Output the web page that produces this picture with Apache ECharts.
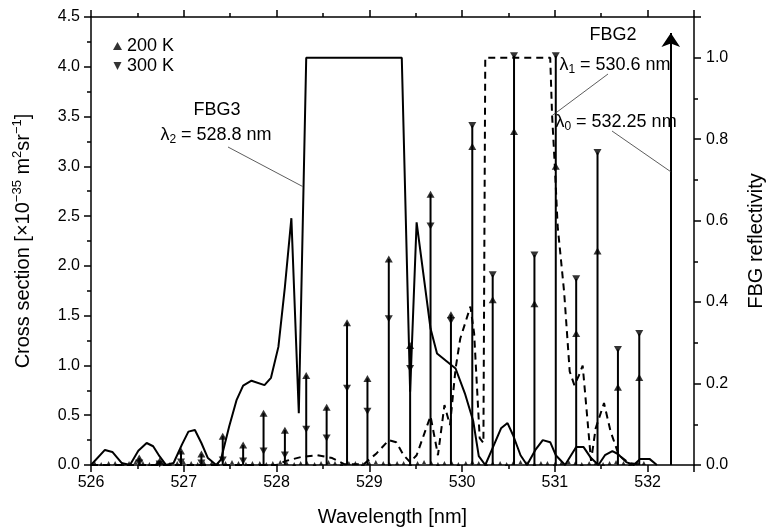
<!DOCTYPE html>
<html lang="en">
<head>
<meta charset="UTF-8">
<title>Raman lines and FBG reflectivity</title>
<script src="https://cdn.jsdelivr.net/npm/echarts@6/dist/echarts.min.js"></script>
<style>
  html, body { margin: 0; padding: 0; background: #fff; }
  #chart { width: 774px; height: 532px; }
</style>
</head>
<body>
<div id="chart"></div>
<script>
  // rotational Raman lines, wavelength [nm]
  var lineWl = [526.52, 526.74, 526.97, 527.19, 527.42, 527.64, 527.86, 528.09, 528.32, 528.54, 528.76, 528.98,
                529.21, 529.44, 529.66, 529.88, 530.11, 530.33, 530.56, 530.78, 531.01, 531.23, 531.46, 531.68, 531.91];
  // cross section [x1e-35 m2 sr-1]
  var cs200 = [0.07, 0.04, 0.14, 0.11, 0.29, 0.20, 0.52, 0.35, 0.90, 0.58, 1.43, 0.87,
               2.07, 1.20, 2.72, 1.51, 3.20, 1.66, 3.35, 1.62, 3.00, 1.32, 2.15, 0.78, 0.88];
  var cs300 = [0.02, 0.01, 0.03, 0.02, 0.05, 0.04, 0.14, 0.10, 0.36, 0.27, 0.77, 0.54,
               1.47, 0.97, 2.40, 1.45, 3.41, 1.91, 4.11, 2.11, 4.11, 1.87, 3.14, 1.16, 1.32];

  // weak lines sitting on the baseline
  var weakWl = [526.04, 526.11, 526.19, 526.26, 526.34, 526.41, 526.48, 526.56, 526.63, 526.71, 526.78, 526.85,
                526.93, 527.00, 527.08, 527.15, 527.22, 527.30, 527.37, 527.45, 527.52, 527.59, 527.67, 527.74,
                527.82, 527.89, 527.96, 528.04, 528.11, 528.19, 528.26, 528.33, 528.41, 528.48, 528.56, 528.63,
                528.70, 528.78, 528.85, 528.93, 529.00, 529.07, 529.15, 529.22, 529.30, 529.37, 529.44, 529.52,
                529.59, 529.67, 529.74, 529.81, 529.89, 529.96, 530.04, 530.11, 530.18, 530.26, 530.33, 530.41,
                530.48, 530.55, 530.63, 530.70, 530.78, 530.85, 530.92, 531.00, 531.07, 531.15, 531.22, 531.29,
                531.37, 531.44, 531.52, 531.59, 531.66, 531.74, 531.81, 531.89, 531.96];
  var weakCs = [0.02, 0.01, 0.02, 0.02, 0.01, 0.02, 0.03, 0.02, 0.01, 0.02, 0.02, 0.01,
                0.02, 0.03, 0.02, 0.01, 0.02, 0.02, 0.01, 0.02, 0.03, 0.02, 0.01, 0.02,
                0.02, 0.01, 0.02, 0.03, 0.02, 0.01, 0.02, 0.02, 0.01, 0.02, 0.03, 0.02,
                0.01, 0.02, 0.02, 0.01, 0.02, 0.03, 0.02, 0.01, 0.02, 0.02, 0.01, 0.02,
                0.03, 0.02, 0.01, 0.02, 0.02, 0.01, 0.02, 0.03, 0.02, 0.01, 0.02, 0.02,
                0.01, 0.02, 0.03, 0.02, 0.01, 0.02, 0.02, 0.01, 0.02, 0.03, 0.02, 0.01,
                0.02, 0.02, 0.01, 0.02, 0.03, 0.02, 0.01, 0.02, 0.02];

  // FBG3 reflectivity (solid), [wavelength, R]
  var fbg3 = [[526.00, 0.000], [526.15, 0.037], [526.23, 0.032], [526.33, 0.005], [526.42, 0.000], [526.51, 0.035],
              [526.60, 0.054], [526.67, 0.046], [526.74, 0.021], [526.81, 0.000], [526.89, 0.005], [526.98, 0.050],
              [527.05, 0.082], [527.12, 0.086], [527.19, 0.054], [527.26, 0.017], [527.35, 0.000], [527.40, 0.013],
              [527.49, 0.095], [527.57, 0.160], [527.64, 0.195], [527.73, 0.207], [527.87, 0.196], [527.94, 0.214],
              [528.02, 0.290], [528.09, 0.437], [528.16, 0.606], [528.24, 0.127], [528.32, 1.000], [529.35, 1.000],
              [529.44, 0.180], [529.51, 0.596], [529.66, 0.335], [529.73, 0.274], [529.82, 0.257], [529.93, 0.237],
              [530.03, 0.176], [530.12, 0.108], [530.18, 0.022], [530.25, 0.000], [530.33, 0.042], [530.42, 0.090],
              [530.49, 0.103], [530.55, 0.073], [530.63, 0.024], [530.70, 0.000], [530.79, 0.037], [530.87, 0.061],
              [530.95, 0.056], [531.01, 0.024], [531.11, 0.000], [531.17, 0.022], [531.23, 0.044], [531.31, 0.044],
              [531.39, 0.017], [531.47, 0.000], [531.54, 0.024], [531.62, 0.034], [531.68, 0.027], [531.77, 0.007],
              [531.85, 0.000], [531.92, 0.015], [532.02, 0.015], [532.10, 0.000]];
  // FBG2 reflectivity (dashed)
  var fbg2 = [[526.00, 0.000], [528.00, 0.000], [528.10, 0.010], [528.27, 0.020], [528.44, 0.024], [528.60, 0.017],
              [528.73, 0.002], [528.94, 0.002], [529.08, 0.029], [529.21, 0.061], [529.29, 0.056], [529.37, 0.024],
              [529.44, 0.007], [529.51, 0.024], [529.66, 0.120], [529.74, 0.024], [529.81, 0.147], [529.87, 0.098],
              [529.93, 0.237], [529.98, 0.310], [530.09, 0.389], [530.13, 0.323], [530.19, 0.066], [530.23, 0.054],
              [530.25, 1.000], [530.95, 1.000], [530.97, 0.860], [531.00, 0.733], [531.03, 0.587], [531.10, 0.425],
              [531.16, 0.230], [531.21, 0.196], [531.26, 0.220], [531.30, 0.244], [531.35, 0.115], [531.39, 0.010],
              [531.44, 0.090], [531.53, 0.152], [531.60, 0.083], [531.69, 0.024], [531.80, 0.005], [531.94, 0.000]];

  // laser line
  var lambda0 = 532.25;
  var arrowTop = 4.34;

  // points the leader lines touch, [wavelength, R]
  var tipFbg3 = [528.28, 0.684];
  var tipL1 = [530.96, 0.856];
  var tipL0 = [532.25, 0.72];

  var black = '#000';
  var font = 'Liberation Sans, Arial, sans-serif';
  var downTri = 'path://M0,0L10,0L5,10Z';

  var chart = echarts.init(document.getElementById('chart'));

  var stems = lineWl.map(function (w, i) { return [w, Math.max(cs200[i], cs300[i])]; });
  var pts200 = lineWl.map(function (w, i) { return [w, cs200[i]]; });
  var pts300 = lineWl.map(function (w, i) { return [w, cs300[i]]; });
  var weak = weakWl.map(function (w, i) { return [w, weakCs[i]]; });

  function xAxisCfg(pos) {
    return {
      type: 'value', position: pos, min: 526, max: 532.5, interval: 1,
      axisLine: { onZero: false, lineStyle: { color: black, width: 1.5 } },
      axisTick: { length: 7, lineStyle: { color: black, width: 1.5 } },
      minorTick: { show: true, splitNumber: 2, length: 4, lineStyle: { color: black, width: 1.5 } },
      splitLine: { show: false },
      axisLabel: { show: pos === 'bottom', showMaxLabel: false, color: black, fontSize: 16, fontFamily: font, margin: 10 }
    };
  }

  var bottomX = xAxisCfg('bottom');
  bottomX.name = 'Wavelength [nm]';
  bottomX.nameLocation = 'middle';
  bottomX.nameGap = 42;
  bottomX.nameTextStyle = { color: black, fontSize: 20, fontFamily: font };

  var option = {
    animation: false,
    backgroundColor: '#fff',
    grid: { left: 91, right: 77, top: 17, bottom: 65, containLabel: false },
    legend: {
      orient: 'vertical', left: 108, top: 32, itemWidth: 9, itemHeight: 8, itemGap: 2,
      textStyle: { color: black, fontSize: 18, fontFamily: font },
      data: [{ name: '200 K', icon: 'triangle' }, { name: '300 K', icon: downTri }]
    },
    xAxis: [bottomX, xAxisCfg('top')],
    yAxis: [
      {
        type: 'value', position: 'left', min: 0, max: 4.5, interval: 0.5,
        name: 'Cross section [×10{sup|−35} m{sup|2}sr{sup|−1}]',
        nameLocation: 'middle', nameGap: 56,
        nameTextStyle: {
          color: black, fontSize: 20, fontFamily: font, lineHeight: 24,
          rich: { sup: { fontSize: 13, lineHeight: 13, verticalAlign: 'top', fontFamily: font, color: black } }
        },
        axisLine: { show: true, lineStyle: { color: black, width: 1.5 } },
        axisTick: { show: true, length: 7, lineStyle: { color: black, width: 1.5 } },
        minorTick: { show: true, splitNumber: 2, length: 4, lineStyle: { color: black, width: 1.5 } },
        splitLine: { show: false },
        axisLabel: { color: black, fontSize: 16, fontFamily: font, margin: 11, formatter: function (v) { return v.toFixed(1); } }
      },
      {
        type: 'value', position: 'right', min: 0, max: 1.1, interval: 0.2,
        name: 'FBG reflectivity', nameLocation: 'middle', nameGap: 52, nameRotate: 90,
        nameTextStyle: { color: black, fontSize: 20, fontFamily: font },
        axisLine: { show: true, lineStyle: { color: black, width: 1.5 } },
        axisTick: { show: true, length: 7, lineStyle: { color: black, width: 1.5 } },
        minorTick: { show: true, splitNumber: 2, length: 4, lineStyle: { color: black, width: 1.5 } },
        splitLine: { show: false },
        axisLabel: { color: black, fontSize: 16, fontFamily: font, margin: 12, showMaxLabel: false,
                     formatter: function (v) { return v.toFixed(1); } }
      }
    ],
    series: [
      {
        name: 'FBG3', type: 'line', xAxisIndex: 0, yAxisIndex: 1, data: fbg3,
        showSymbol: false, lineStyle: { color: black, width: 2 }, z: 2
      },
      {
        name: 'FBG2', type: 'line', xAxisIndex: 0, yAxisIndex: 1, data: fbg2,
        showSymbol: false, lineStyle: { color: black, width: 2, type: [7, 5] }, z: 2
      },
      {
        name: 'stems', type: 'custom', xAxisIndex: 0, yAxisIndex: 0, data: stems,
        encode: { x: 0, y: 1 }, z: 3,
        renderItem: function (params, api) {
          var top = api.coord([api.value(0), api.value(1)]);
          var base = api.coord([api.value(0), 0]);
          return {
            type: 'line',
            shape: { x1: base[0], y1: base[1], x2: top[0], y2: top[1] },
            style: { stroke: black, lineWidth: 2 }
          };
        }
      },
      {
        name: 'weak', type: 'scatter', xAxisIndex: 0, yAxisIndex: 0, data: weak,
        symbol: 'triangle', symbolSize: [4, 4], itemStyle: { color: black }, z: 3
      },
      {
        name: '200 K', type: 'scatter', xAxisIndex: 0, yAxisIndex: 0, data: pts200,
        symbol: 'triangle', symbolSize: [8, 7], itemStyle: { color: black }, z: 4
      },
      {
        name: '300 K', type: 'scatter', xAxisIndex: 0, yAxisIndex: 0, data: pts300,
        symbol: downTri, symbolSize: [8, 7], itemStyle: { color: black }, z: 4
      },
      {
        name: 'laser', type: 'lines', coordinateSystem: 'cartesian2d', xAxisIndex: 0, yAxisIndex: 0,
        symbol: ['none', 'arrow'], symbolSize: [7, 14],
        lineStyle: { color: black, width: 2, opacity: 1 },
        data: [{ coords: [[lambda0, 0], [lambda0, arrowTop]] }], z: 4
      }
    ]
  };

  chart.setOption(option);

  // annotations: text placed in the free space, leader lines end on the curves
  var rich = {
    t: { fontSize: 18, lineHeight: 22, fontFamily: font, fill: black },
    s: { fontSize: 12, lineHeight: 12, verticalAlign: 'bottom', fontFamily: font, fill: black }
  };
  var px3 = chart.convertToPixel({ xAxisIndex: 0, yAxisIndex: 1 }, tipFbg3);
  var px1 = chart.convertToPixel({ xAxisIndex: 0, yAxisIndex: 1 }, tipL1);
  var px0 = chart.convertToPixel({ xAxisIndex: 0, yAxisIndex: 1 }, tipL0);

  function label(x, y, text) {
    return { type: 'text', x: x, y: y, z: 10,
             style: { text: text, rich: rich, align: 'center', verticalAlign: 'middle', font: '18px ' + font, fill: black } };
  }
  function leader(x, y, p) {
    return { type: 'line', z: 10, shape: { x1: x, y1: y, x2: p[0], y2: p[1] }, style: { stroke: '#333', lineWidth: 0.8 } };
  }

  chart.setOption({
    graphic: [
      label(217, 110, 'FBG3'),
      label(216, 135, '{t|λ}{s|2}{t| = 528.8 nm}'),
      leader(228, 147, px3),
      label(613, 35, 'FBG2'),
      label(615, 65, '{t|λ}{s|1}{t| = 530.6 nm}'),
      leader(608, 74, px1),
      label(616, 122, '{t|λ}{s|0}{t| = 532.25 nm}'),
      leader(612, 131, px0)
    ]
  });
</script>
</body>
</html>
